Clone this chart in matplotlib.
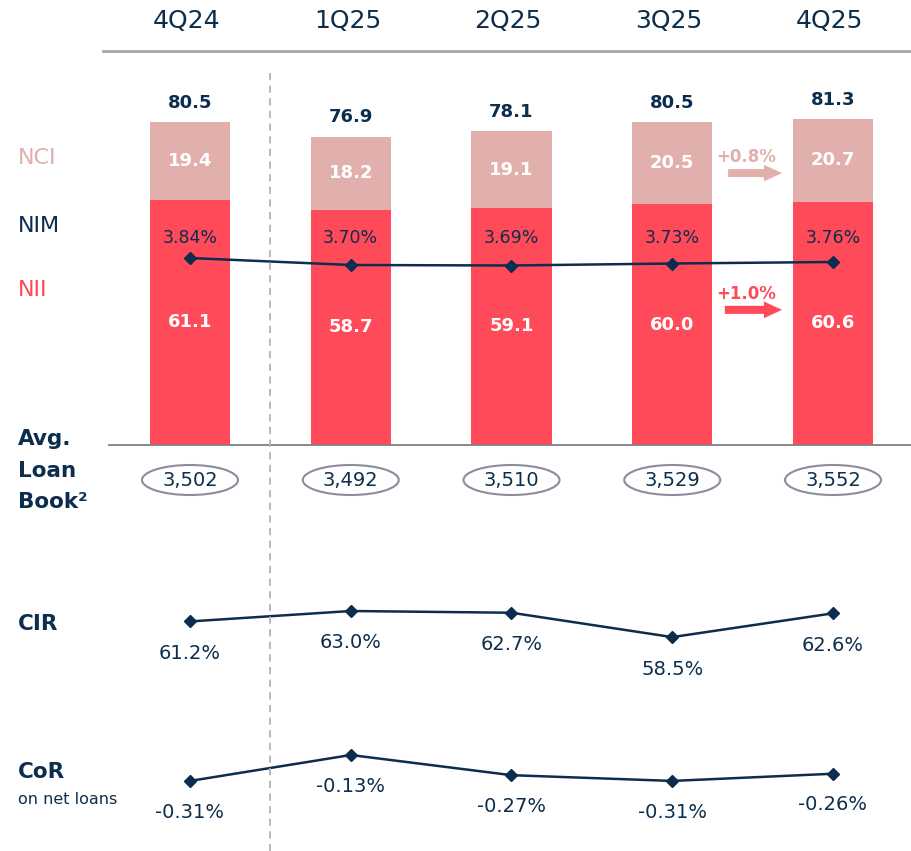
import numpy as np
import matplotlib
matplotlib.use("Agg")
import matplotlib.pyplot as plt
from matplotlib.patches import Ellipse
from matplotlib.lines import Line2D
from matplotlib.transforms import blended_transform_factory

quarters = ["4Q24", "1Q25", "2Q25", "3Q25", "4Q25"]
nii = [61.1, 58.7, 59.1, 60.0, 60.6]
nci = [19.4, 18.2, 19.1, 20.5, 20.7]
totals = [80.5, 76.9, 78.1, 80.5, 81.3]
nim = [3.84, 3.70, 3.69, 3.73, 3.76]
loan_book = ["3,502", "3,492", "3,510", "3,529", "3,552"]
cir = [61.2, 63.0, 62.7, 58.5, 62.6]
cor = [-0.31, -0.13, -0.27, -0.31, -0.26]

NAVY = "#0c2d4d"
RED = "#ff4a5a"
PINK = "#e2b0ac"
GRID = "#b4b4b4"

W, H = 912, 851
fig = plt.figure(figsize=(W / 100, H / 100), dpi=100)


def px_axes(left, top, right, bottom):
    return fig.add_axes([left / W, 1 - bottom / H, (right - left) / W, (bottom - top) / H])


x = np.arange(len(quarters))
xlim = ((109 - 190) / 160.75, (912 - 190) / 160.75)

# --- stacked bars NII + NCI ---
ax = px_axes(109, 60, 912, 445)
ax.bar(x, nii, width=0.5, color=RED)
ax.bar(x, nci, width=0.5, bottom=nii, color=PINK)
ax.set_xlim(xlim)
ax.set_ylim(0, 96)
for s in ["top", "left", "right"]:
    ax.spines[s].set_visible(False)
ax.spines["bottom"].set_color("#7f7f7f")
ax.spines["bottom"].set_linewidth(1.3)
ax.set_xticks([])
ax.set_yticks([])
ax.patch.set_alpha(0)

for i in x:
    ax.text(i, nii[i] / 2, f"{nii[i]:.1f}", ha="center", va="center",
            color="white", fontsize=13, fontweight="bold")
    ax.text(i, nii[i] + nci[i] / 2, f"{nci[i]:.1f}", ha="center", va="center",
            color="white", fontsize=13, fontweight="bold")
    ax.annotate(f"{totals[i]:.1f}", (i, totals[i]), xytext=(0, 14),
                textcoords="offset points", ha="center", va="center",
                color=NAVY, fontsize=13, fontweight="bold")

# growth arrows between 3Q25 and 4Q25
arrow_style = "simple,head_length=1.3,head_width=1.2,tail_width=0.58"
ax.annotate("", xy=(3.70, 67.8), xytext=(3.33, 67.8),
            arrowprops=dict(arrowstyle=arrow_style, color=PINK, lw=0))
ax.text(3.46, 71.8, "+0.8%", ha="center", va="center", color=PINK,
        fontsize=12, fontweight="bold")
ax.annotate("", xy=(3.70, 33.7), xytext=(3.31, 33.7),
            arrowprops=dict(arrowstyle=arrow_style, color=RED, lw=0))
ax.text(3.46, 37.6, "+1.0%", ha="center", va="center", color=RED,
        fontsize=12, fontweight="bold")

# NIM line on its own scale
ax_nim = ax.twinx()
ax_nim.set_ylim(0.10, 7.80)
ax_nim.axis("off")
ax_nim.plot(x, nim, color=NAVY, lw=1.8, marker="D", ms=6.5)
lab_tr = blended_transform_factory(ax.transData, fig.transFigure)
for i in x:
    ax_nim.text(i, 1 - 238 / H, f"{nim[i]:.2f}%", transform=lab_tr,
                ha="center", va="center", color=NAVY, fontsize=12.5)

# quarter header
for i, q in enumerate(quarters):
    ax.text(i - 0.02, 1 - 21 / H, q, transform=lab_tr, ha="center", va="center",
            color=NAVY, fontsize=18)
fig.add_artist(Line2D([103 / W, 1], [1 - 51 / H] * 2, color="#aaa59f", lw=2))

# dashed separator after 4Q24
fig.add_artist(Line2D([0.5, 0.5], [1 - 73 / H, 0], transform=lab_tr,
                      color=GRID, lw=1.3, ls=(0, (4, 3))))

# --- average loan book ---
ax_loan = px_axes(109, 455, 912, 505)
ax_loan.set_xlim(xlim)
ax_loan.set_ylim(0, 1)
ax_loan.axis("off")
for i in x:
    ax_loan.add_patch(Ellipse((i, 0.5), 96 / 160.75, 0.6, fill=False,
                              edgecolor="#8c8c9c", lw=1.5))
    ax_loan.text(i, 0.5, loan_book[i], ha="center", va="center",
                 color=NAVY, fontsize=14)

# --- CIR ---
ax_cir = px_axes(109, 560, 912, 700)
ax_cir.set_xlim(xlim)
ax_cir.set_ylim(47.66, 71.79)
ax_cir.axis("off")
ax_cir.plot(x, cir, color=NAVY, lw=1.8, marker="D", ms=6.5)
for i in x:
    ax_cir.annotate(f"{cir[i]:.1f}%", (i, cir[i]), xytext=(0, -23),
                    textcoords="offset points", ha="center", va="center",
                    color=NAVY, fontsize=14)

# --- CoR ---
ax_cor = px_axes(109, 720, 912, 840)
ax_cor.set_xlim(xlim)
ax_cor.set_ylim(-0.720, 0.113)
ax_cor.axis("off")
ax_cor.plot(x, cor, color=NAVY, lw=1.8, marker="D", ms=6.5)
for i in x:
    ax_cor.annotate(f"{cor[i]:.2f}%", (i, cor[i]), xytext=(0, -22.5),
                    textcoords="offset points", ha="center", va="center",
                    color=NAVY, fontsize=14)

# row labels on the left
def row_label(y, s, **kw):
    fig.text(18 / W, 1 - y / H, s, ha="left", va="center", **kw)

row_label(158, "NCI", color=PINK, fontsize=16)
row_label(226, "NIM", color=NAVY, fontsize=16)
row_label(290, "NII", color=RED, fontsize=16)
row_label(439, "Avg.", color=NAVY, fontsize=15.5, fontweight="bold")
row_label(471, "Loan", color=NAVY, fontsize=15.5, fontweight="bold")
row_label(502, "Book²", color=NAVY, fontsize=15.5, fontweight="bold")
row_label(624, "CIR", color=NAVY, fontsize=15.5, fontweight="bold")
row_label(772, "CoR", color=NAVY, fontsize=15.5, fontweight="bold")
row_label(800, "on net loans", color=NAVY, fontsize=11.5)

fig.savefig("out.png", dpi=100)
